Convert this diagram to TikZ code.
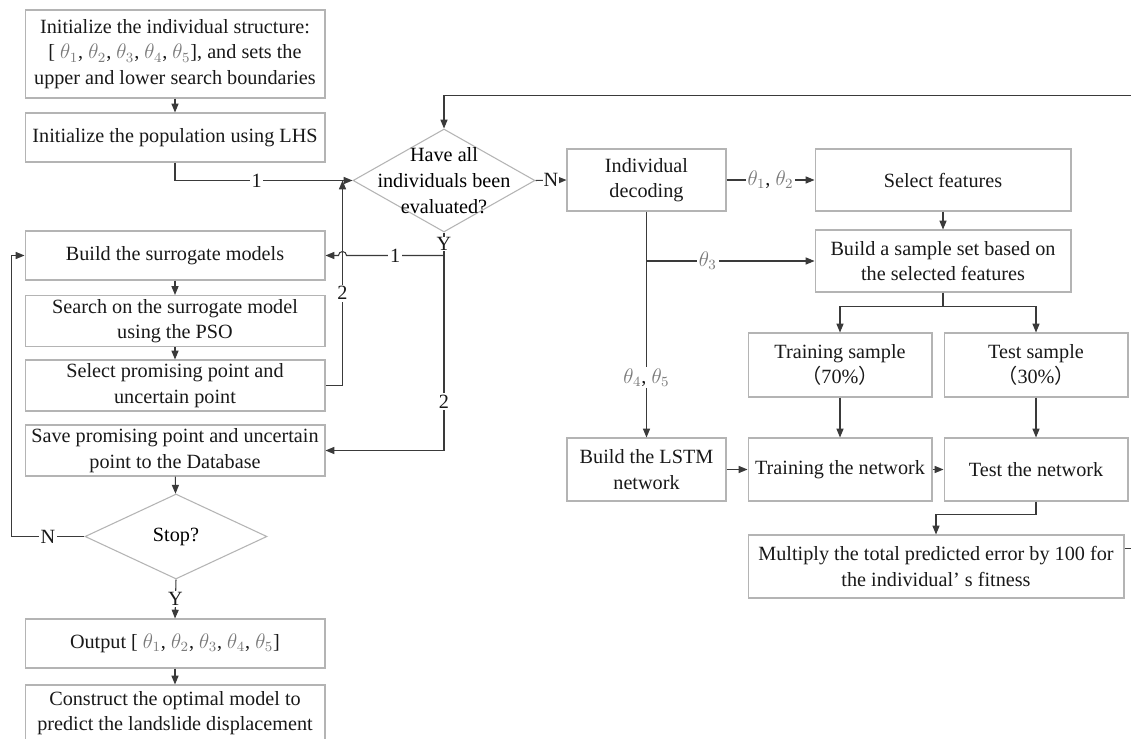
\documentclass[tikz,border=0pt]{standalone}
\usepackage{fontspec}
\setmainfont{Liberation Serif}
\newfontfamily\cjk{Noto Sans CJK SC}
\usepackage{xcolor}
\usetikzlibrary{shapes, arrows.meta, positioning, calc}

\definecolor{linegray}{HTML}{3A3A3A}
\definecolor{boxgray}{HTML}{B4B4B4}
\definecolor{thgray}{HTML}{7A7A7A}
\newcommand{\pth}[1]{\textcolor{thgray}{$\theta_{#1}$}}

\tikzset{
    box/.style={draw=boxgray, line width=0.6pt, align=center, inner sep=2pt, text=black!90},
    dia/.style={draw=boxgray, line width=0.6pt, diamond, inner sep=0pt},
    lab/.style={fill=white, inner sep=1pt, text=black!90},
    arr/.style={draw=linegray, line width=0.6pt, -{Triangle[length=5pt, width=4pt]}},
    ln/.style={draw=linegray, line width=0.6pt}
}

\begin{document}
\begin{tikzpicture}[x=0.02cm, y=-0.02cm, every node/.style={font=\fontsize{11.5}{14.6}\selectfont}]
    \useasboundingbox[fill=white] (0,0) rectangle (1131,739);

    % left column
    \node [box, minimum width=6cm, minimum height=1.76cm] (init) at (175,54) {Initialize the individual structure:\\ {[} \pth{1}, \pth{2}, \pth{3}, \pth{4}, \pth{5}], and sets the\\ upper and lower search boundaries};
    \node [box, minimum width=6cm, minimum height=0.98cm] (pop) at (175,137.5) {Initialize the population using LHS};
    \node [box, minimum width=6cm, minimum height=0.98cm] (sur) at (175,255.5) {Build the surrogate models};
    \node [box, minimum width=6cm, minimum height=1.0cm] (pso) at (175,321) {Search on the surrogate model\\ using the PSO};
    \node [box, minimum width=6cm, minimum height=0.98cm] (sel) at (175,385.5) {Select promising point and\\ uncertain point};
    \node [box, minimum width=6cm, minimum height=0.98cm] (save) at (175,450.5) {Save promising point and uncertain\\ point to the Database};
    \node [dia, minimum width=3.64cm, minimum height=1.7cm] (stop) at (176,536.5) {};
    \node at (stop) {Stop?};
    \node [box, minimum width=6cm, minimum height=0.98cm] (out) at (175,643.5) {Output {[} \pth{1}, \pth{2}, \pth{3}, \pth{4}, \pth{5}]};
    \node [box, minimum width=6cm, minimum height=1.12cm] (con) at (175,713) {Construct the optimal model to\\ predict the landslide displacement};

    % decision
    \node [dia, minimum width=3.64cm, minimum height=2.06cm] (eval) at (444,180.5) {};
    \node [align=center] at (eval) {Have all\\ individuals been\\ evaluated?};

    % right part
    \node [box, minimum width=3.18cm, minimum height=1.24cm] (dec) at (646.5,180) {Individual\\ decoding};
    \node [box, minimum width=5.12cm, minimum height=1.24cm] (feat) at (943,180) {Select features};
    \node [box, minimum width=5.12cm, minimum height=1.24cm] (samp) at (943,261) {Build a sample set based on\\ the selected features};
    \node [box, minimum width=3.68cm, minimum height=1.28cm] (train) at (840,365) {Training sample\\ {\cjk （}70\%{\cjk ）}};
    \node [box, minimum width=3.68cm, minimum height=1.28cm] (tests) at (1036,365) {Test sample\\ {\cjk （}30\%{\cjk ）}};
    \node [box, minimum width=3.18cm, minimum height=1.26cm] (lstm) at (646.5,469.5) {Build the LSTM\\ network};
    \node [box, minimum width=3.68cm, minimum height=1.26cm] (trnet) at (840,469.5) {Training the network};
    \node [box, minimum width=3.68cm, minimum height=1.26cm] (tsnet) at (1036,469.5) {Test the network};
    \node [box, minimum width=7.52cm, minimum height=1.26cm] (mult) at (936,566.5) {Multiply the total predicted error by 100 for\\ the individual’ s fitness};

    \coordinate (yj) at (eval.south |- sur.east);
    \coordinate (vline) at ($(sel.east)+(17,0)$);
    \coordinate (hop) at (vline |- sur.east);
    \coordinate (split) at ($(samp.south)+(0,14)$);

    % left connectors
    \draw [arr] (init) -- (pop);
    \draw [arr] (pop.south) |- node [lab, pos=0.73] {1} (eval.west);
    \draw [arr] (sur) -- (pso);
    \draw [arr] (pso) -- (sel);
    \draw [arr] (sel.east) -- (vline) -- node [lab, pos=0.45] {2} (vline |- eval.west);
    \draw [ln] (eval.south) -- node [lab, inner sep=0pt] {Y} (yj);
    \draw [arr] (yj) -- node [lab] {1} ([xshift=0.08cm]hop) arc [start angle=0, end angle=180, radius=0.08cm] -- (sur.east);
    \draw [arr] (yj) -- node [lab, pos=0.75] {2} (yj |- save.east) -- (save.east);
    \draw [arr] (save) -- (stop);
    \draw [arr] (stop.west) -- node [lab] {N} ++(-73,0) |- (sur.west);
    \draw [arr] (stop.south) -- node [lab] {Y} (out.north);
    \draw [arr] (out) -- (con);

    % right connectors
    \draw [arr] (eval.east) -- node [lab, inner sep=0.5pt] {N} (dec.west);
    \draw [arr] (dec.east) -- node [lab] {\pth{1}, \pth{2}} (feat.west);
    \draw [arr] (feat) -- (samp);
    \draw [arr] (dec.south |- samp.west) -- node [lab, pos=0.365] {\pth{3}} (samp.west);
    \draw [arr] (dec.south) -- node [lab, pos=0.735] {\pth{4}, \pth{5}} (lstm.north);
    \draw [arr] (samp.south) -- (split) -| (train.north);
    \draw [arr] (split) -| (tests.north);
    \draw [arr] (train) -- (trnet);
    \draw [arr] (tests) -- (tsnet);
    \draw [arr] (lstm) -- (trnet);
    \draw [arr] (trnet) -- (tsnet);
    \draw [arr] (tsnet.south) -- ++(0,13) -| (mult.north);
    \draw [arr] ($(mult.east)+(0,-18)$) -- ++(30,0) |- ($(eval.north)+(0,-33)$) -- (eval.north);
\end{tikzpicture}
\end{document}
